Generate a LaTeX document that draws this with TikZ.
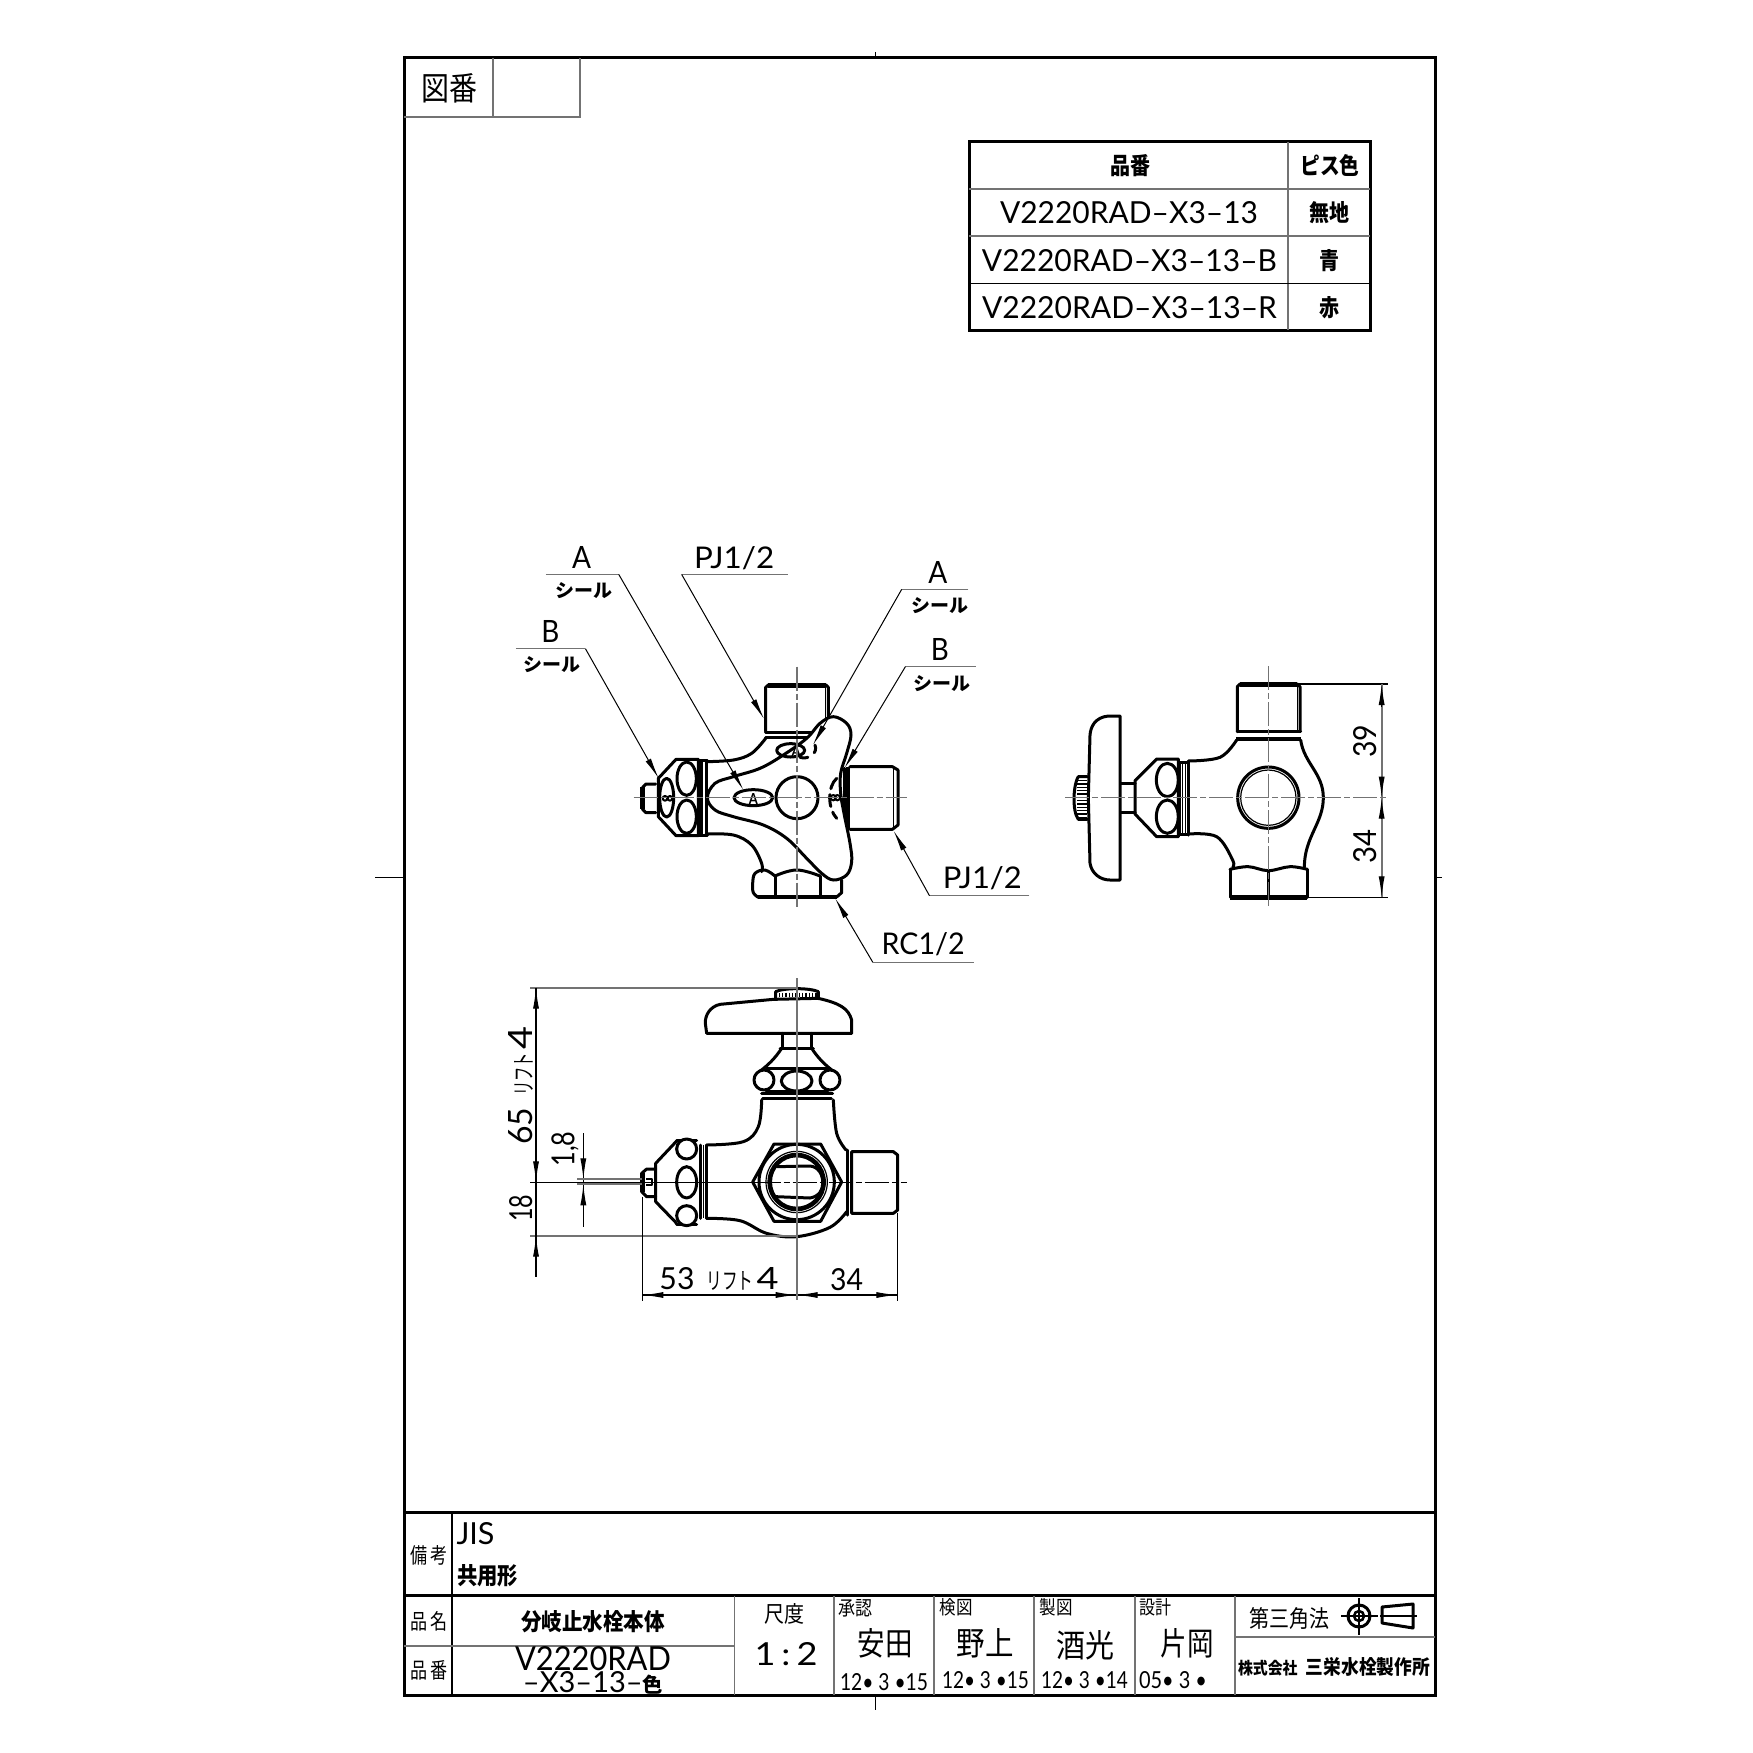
\documentclass[tikz,border=0pt]{standalone}
\usepackage{graphicx}
\usepackage{fontspec}
\setmainfont{Lato}
\newfontfamily\jp{Noto Sans CJK JP}
\usetikzlibrary{arrows.meta}
\newcommand{\lf}[3]{\resizebox{#1pt}{#2pt}{#3}}
\newcommand{\jf}[3]{\resizebox{#1pt}{#2pt}{\jp #3}}
\newcommand{\jb}[3]{\resizebox{#1pt}{#2pt}{\jp\bfseries #3}}
\definecolor{lg}{gray}{0.45}
\tikzset{
 t/.style={inner sep=0pt,outer sep=0pt,anchor=center,text=black},
 thk/.style={line width=3pt,line join=round,line cap=round},
 med/.style={line width=2pt,line join=round},
 thn/.style={line width=1.2pt},
 cl/.style={line width=1.6pt,lg,dash pattern=on 24pt off 3pt on 6pt off 3pt},
 ext/.style={line width=1.2pt,black},
 gline/.style={line width=1.8pt,lg},
 frm/.style={line width=3pt,black},
 hd/.style={-{Latex[length=21pt,width=6pt]}},
 ld/.style={line width=1pt,black},
 ldg/.style={line width=1.3pt,lg},
 za/.style={shift={(620,670)},x=0.33333pt,y=-0.33333pt},
 zb/.style={shift={(480,520)},x=0.3699pt,y=-0.33333pt},
 zc/.style={shift={(490,970)},x=0.33333pt,y=-0.33333pt},
 zd/.style={shift={(1060,660)},x=0.33333pt,y=-0.33333pt},
}
\begin{document}
\begin{tikzpicture}[x=1pt,y=-1pt]
\useasboundingbox (0,0) rectangle (1753,1753);
\fill[white] (0,0) rectangle (1753,1753);
% ---------- sheet frame
\draw[frm] (404,58) rectangle (1435,1695);
\draw[line width=1pt] (875,52)--(875,58) (875,1695)--(875,1710) (375,877)--(404,877) (1435,877)--(1442,877);
\draw[gline] (404,117)--(580,117)--(580,58) (493,58)--(493,117);
\node[t] (zuban) at (449,88) {\jf{56}{27}{図番}};
% ---------- parts table
\draw[line width=3pt] (969,141.5) rectangle (1370.5,330);
\draw[gline] (969,189)--(1370,189) (969,236)--(1370,236) (1288,142)--(1288,330);
\draw[line width=1.4pt] (969,283.5)--(1370,283.5);
\node[t] (th1) at (1130,166) {\jb{40}{20}{品番}};
\node[t] (th2) at (1330,166) {\jb{59}{20}{ピス色}};
\node[t] (r1a) at (1129,213) {\lf{258}{22}{V2220RAD–X3–13}};
\node[t] (r2a) at (1129.5,261) {\lf{295}{22}{V2220RAD–X3–13–B}};
\node[t] (r3a) at (1129.5,308) {\lf{295}{22}{V2220RAD–X3–13–R}};
\node[t] (r1b) at (1329,213) {\jb{40}{20}{無地}};
\node[t] (r2b) at (1329,261) {\jb{20}{20}{青}};
\node[t] (r3b) at (1329,308) {\jb{20}{20}{赤}};
% ---------- title block
\draw[frm] (404,1512.5)--(1435,1512.5) (404,1595.5)--(1435,1595.5);
\draw[line width=2pt] (452,1513)--(452,1695);
\draw[gline] (404,1646)--(734.5,1646) (1235,1637)--(1435,1637);
\draw[gline] (734.5,1596)--(734.5,1695) (834,1596)--(834,1695) (934,1596)--(934,1695) (1034,1596)--(1034,1695) (1135,1596)--(1135,1695) (1235,1596)--(1235,1695);
\node[t] (biko) at (429,1555) {\jf{37}{18}{備\,考}};
\node[t] (jis) at (475.5,1534) {\lf{38}{22}{JIS}};
\node[t] (kyoyo) at (487.5,1576) {\jb{61}{20}{共用形}};
\node[t] (hinmei) at (429,1621) {\jf{37}{18}{品\,名}};
\node[t] (hinban) at (429,1670) {\jf{37}{18}{品\,番}};
\node[t] (name) at (593,1622) {\jb{144}{20}{分岐止水栓本体}};
\node[t] (no1) at (593,1658.5) {\lf{156}{24}{V2220RAD}};
\node[t] (no2) at (593,1683) {\lf{140}{21}{–X3–13–{\jp\bfseries\fontsize{7}{7}\selectfont 色}}};
\node[t] (shaku) at (784,1614) {\jf{40}{19}{尺度}};
\node[t] (scale) at (786,1654.5) {\lf{63}{23}{1\,:\,2}};
\node[t] (sho) at (855,1608) {\jf{34}{16}{承認}};
\node[t] (p1) at (885,1643) {\jf{55}{27}{安田}};
\node[t] (d1) at (884,1682) {\lf{88}{17}{12• 3 •15}};
\node[t] (ken) at (956,1607) {\jf{33}{16}{検図}};
\node[t] (p2) at (985,1643) {\jf{57}{27}{野上}};
\node[t] (d2) at (985.5,1680.5) {\lf{87}{17}{12• 3 •15}};
\node[t] (sei) at (1056,1607) {\jf{33}{16}{製図}};
\node[t] (p3) at (1085,1645) {\jf{58}{27}{酒光}};
\node[t] (d3) at (1084.5,1680.5) {\lf{87}{17}{12• 3 •14}};
\node[t] (sek) at (1155,1607) {\jf{32}{16}{設計}};
\node[t] (p4) at (1187,1643) {\jf{53}{27}{片岡}};
\node[t] (d4) at (1173,1680.5) {\lf{68}{17}{05• 3 •}};
\node[t] (sankaku) at (1289,1618) {\jf{80}{20}{第三角法}};
\node[t] (co) at (1334,1667) {\jb{192}{17}{{\fontsize{8.4}{8.4}\selectfont 株式会社}\ \ 三栄水栓製作所}};
% third angle symbol
\draw[line width=1.2pt] (1341,1616)--(1378,1616) (1359,1598)--(1359,1635) (1380,1616)--(1417,1616);
\draw[line width=3pt] (1359,1616) circle (11);
\draw[line width=2.5pt] (1359,1616) circle (5);
\draw[thk] (1382,1607)--(1413,1604)--(1413,1628)--(1382,1623)--cycle;
% ---------- FRONT VIEW
\begin{scope}[za]
 % top nipple
 \draw[thk] (437,185)--(437,52)--(445,45)--(618,45)--(625,52)--(625,150);
 \draw[line width=5pt] (445,45)--(618,45);
 \draw[thn] (617,50)--(617,160);
 \draw[thk] (437,186)--(600,186);
 \draw[thk] (437,203)--(575,203);
 % body
 \draw[thk] plot[smooth,tension=.6] coordinates {(258,275)(340,270)(395,250)(437,205)};
 \draw[thk] plot[smooth,tension=.6] coordinates {(258,492)(340,495)(395,525)(425,580)(425,605)};
 % bottom nut
 \draw[thk] plot[smooth,tension=.6] coordinates {(465,618)(435,600)(405,610)(398,640)(400,668)(415,682)};
 \draw[line width=4pt] (415,681)--(650,681);
 \draw[thk] (650,681)--(665,668)--(665,630);
 \draw[thk] (465,618)--(465,675) (600,618)--(600,675);
 \draw[thk] plot[smooth,tension=.7] coordinates {(465,618)(530,600)(600,618)};
 % left nut
 \draw[thk] (168,268)--(235,268)--(235,497)--(168,497)--(115,440)--(115,325)--cycle;
 \draw[thk] (200,326) ellipse[x radius=29,y radius=50] (200,440) ellipse[x radius=29,y radius=50];
 \draw[thk] (140,383) ellipse[x radius=21,y radius=58];
 \draw[med] (135,385) circle (7) (150,385) circle (7);
 \draw[thk] (245,272)--(245,493);
 \draw[thk] (258,272)--(258,493);
 \draw[thk] (238,270)--(262,270) (238,495)--(262,495);
 \draw[thk] (107,342)--(78,342)--(68,352)--(68,418)--(78,428)--(107,428);
 \draw[line width=5pt] (68,352)--(68,418);
 % right band
 \draw[thk] (672,295)--(672,480);
 \draw[line width=4pt] (684,290)--(684,480);
 % handle
 \draw[thk,fill=white] plot[smooth cycle,tension=.6] coordinates {(640,140)(680,160)(693,195)(680,250)(662,310)(662,370)(672,430)(690,520)(695,575)(680,615)(640,630)(605,610)(560,565)(500,505)(430,465)(340,440)(285,420)(262,383)(285,340)(340,320)(420,295)(490,255)(560,205)(600,160)};
 \draw[thk] (531,383) circle (63);
 \draw[thk] (400,383) ellipse[x radius=58,y radius=24];
 \draw[thk] (512,241) ellipse[x radius=42,y radius=20];
 \draw[thk,dash pattern=on 12pt off 6pt] (650,325) .. controls (622,350) and (622,415) .. (650,445);
 \draw[thk,dash pattern=on 8pt off 8pt] (540,262) .. controls (565,270) and (595,250) .. (585,225);
 \draw[med] (640,383) circle (8) (652,383) circle (8);
 \node[t] (aa) at (400,388) {\lf{9}{11}{\bfseries A}};
 \node[t] (ab) at (528,244) {\lf{9}{10}{\bfseries A}};
\end{scope}
\begin{scope}[zb]
 % right nipple
 \draw[thk] (1000,740)--(1115,740)--(1130,750)--(1130,915)--(1115,928)--(1000,928);
 \draw[line width=1.5pt] (1118,745)--(1118,925);
 % leaders
 \draw[ldg] (178,163)--(375,163);
 \draw[ld,hd] (375,163)--(712,810);
 \draw[ldg] (832,163)--(545,163);
 \draw[ld,hd] (545,163)--(768,597);
 \draw[ldg] (97,386)--(285,386);
 \draw[ld,hd] (285,386)--(483,775);
 \draw[ldg] (1320,208)--(1140,208);
 \draw[ld,hd] (1140,208)--(900,675);
 \draw[ldg] (1340,440)--(1150,440);
 \draw[ld,hd] (1150,440)--(985,745);
 \draw[ldg] (1485,1127)--(1215,1127);
 \draw[ld,hd] (1215,1127)--(1118,932);
 \draw[ldg] (1335,1327)--(1062,1327);
 \draw[ld,hd] (1062,1327)--(960,1135);
 % labels
 \node[t] (la1) at (275,112) {\lf{19}{22}{A}};
 \node[t] (lp1) at (687,113) {\lf{80}{22}{PJ1/2}};
 \node[t] (ls1) at (280,213) {\jb{57}{15}{シール}};
 \node[t] (lb1) at (190,335) {\lf{18}{22}{B}};
 \node[t] (ls2) at (195,435) {\jb{57}{15}{シール}};
 \node[t] (la2) at (1238,158) {\lf{19}{22}{A}};
 \node[t] (ls3) at (1243,258) {\jb{57}{15}{シール}};
 \node[t] (lb2) at (1243,388) {\lf{18}{22}{B}};
 \node[t] (ls4) at (1250,490) {\jb{57}{15}{シール}};
 \node[t] (lp2) at (1358,1073) {\lf{79}{22}{PJ1/2}};
 \node[t] (lr) at (1198,1273) {\lf{83}{22}{RC1/2}};
 % centre lines
 \draw[cl] (415,833)--(1155,833);
 \draw[cl] (857,440)--(857,1160);
\end{scope}
% ---------- SIDE VIEW
\begin{scope}[zd]
 % nipple
 \draw[thk] (532,215)--(532,80)--(540,72)--(712,72)--(720,80)--(720,215);
 \draw[line width=5pt] (540,72)--(712,72);
 \draw[thn] (712,78)--(712,212);
 \draw[thk] (532,215)--(722,215);
 \draw[line width=4pt] (528,236)--(724,236);
 % body
 \draw[thk] (722,240) .. controls (732,310) and (790,340) .. (790,413) .. controls (790,490) and (733,530) .. (733,622);
 \draw[thk] plot[smooth,tension=.6] coordinates {(530,240)(480,292)(385,303)};
 \draw[thk] plot[smooth,tension=.6] coordinates {(385,522)(470,530)(518,600)(518,622)};
 % nut
 \draw[thk] (510,628)--(510,712) (742,628)--(742,712) (625,630)--(625,712);
 \draw[line width=4.5pt] (510,712)--(742,712);
 \draw[thk] plot[smooth,tension=.6] coordinates {(510,628)(565,620)(625,632)(690,620)(742,628)};
 % port
 \draw[thk] (625,413) circle (92);
 \draw[thn] (625,413) circle (83);
 % neck
 \draw[thk] (358,306)--(358,524) (385,303)--(385,525);
 \draw[line width=1.5pt] (368,306)--(368,524) (376,306)--(376,524);
 \draw[thk] (358,306)--(385,306) (358,524)--(385,524);
 % hex
 \draw[thk] (290,297)--(355,297)--(355,530)--(290,530)--(225,462)--(225,362)--cycle;
 \draw[thk] (322,360) ellipse[x radius=33,y radius=50] (322,470) ellipse[x radius=33,y radius=50];
 % stem
 \draw[thk] (183,370)--(225,370) (183,458)--(225,458);
 % handle
 \draw[thk] (180,660)--(180,168)--(145,168) .. controls (105,172) and (92,200) .. (90,225) -- (85,413) -- (90,610) .. controls (95,640) and (120,660) .. (150,660)--cycle;
 % knob
 \draw[thk] (82,350)--(55,350) .. controls (45,365) and (42,400) .. (42,415) .. controls (42,440) and (45,465) .. (55,478)--(82,478);
 \foreach \yy in {362,372,...,472} \draw[thn] (52,\yy)--(80,\yy);
 % dimensions
 \draw[ext] (715,72)--(985,72) (745,712)--(985,712);
 \draw[gline] (965,72)--(965,712);
 \draw[thn,-{Latex[length=21pt,width=6pt]}] (965,140)--(965,72);
 \draw[thn,-{Latex[length=21pt,width=6pt]}] (965,350)--(965,413);
 \draw[thn,-{Latex[length=21pt,width=6pt]}] (965,475)--(965,413);
 \draw[thn,-{Latex[length=21pt,width=6pt]}] (965,650)--(965,712);
 \node[t,rotate=90] (d39) at (915,243) {\lf{33}{23}{39}};
 \node[t,rotate=90] (d34) at (915,560) {\lf{34}{23}{34}};
 % centre lines
 \draw[cl] (15,413)--(985,413);
 \draw[cl] (625,18)--(625,740);
\end{scope}
% ---------- LOWER VIEW
\begin{scope}[zc]
 % handle
 \draw[thk] (650,190)--(1085,190)--(1085,150) .. controls (1075,115) and (1050,100) .. (985,85)--(850,88)--(690,103) .. controls (660,110) and (645,135) .. (646,160)--(650,190);
 % knob
 \draw[thk] (857,86)--(857,65) .. controls (880,53) and (960,53) .. (985,65)--(985,86);
 \foreach \xx in {868,878,...,978} \draw[thn] (\xx,68)--(\xx,82);
 % stem and bonnet
 \draw[thk] (878,190)--(878,235) (965,190)--(965,235);
 \draw[thk] (870,235)--(970,235);
 \draw[thk] (875,235) .. controls (855,265) and (835,285) .. (808,305);
 \draw[thk] (965,235) .. controls (985,265) and (1005,285) .. (1032,305);
 \draw[thk] (830,295)--(1012,295) (830,365)--(1012,365);
 \draw[thk,fill=white] (822,330) circle (30) (1020,330) circle (30);
 \draw[thk] (920,333) ellipse[x radius=46,y radius=30];
 \draw[thk] (815,370)--(1028,370);
 \draw[thk] (818,386)--(1024,386);
 % body
 \draw[thk] plot[smooth,tension=.6] coordinates {(815,390)(805,470)(760,515)(650,525)};
 \draw[thk] plot[smooth,tension=.6] coordinates {(1030,390)(1040,490)(1068,540)};
 \draw[thk] plot[smooth,tension=.6] coordinates {(1070,725)(1020,772)(920,800)(830,790)(750,752)(650,745)};
 % nipple
 \draw[thk] (1073,540)--(1073,735);
 \draw[thk] (1085,545)--(1210,545)--(1223,555)--(1223,720)--(1210,730)--(1085,730)--cycle;
 % hex + port
 \draw[thk] (788,636)--(852,522)--(992,522)--(1055,636)--(992,754)--(852,754)--cycle;
 \draw[thk,fill=white] (920,636) circle (113);
 \draw[thn] (920,636) circle (92);
 \draw[thn] (920,636) circle (86);
 \draw[line width=4pt] (920,636) circle (80);
 \draw[thk] (860,590)--(960,588) .. controls (985,590) and (1000,615) .. (998,640);
 \draw[thk] (858,680)--(960,684) .. controls (985,680) and (1000,660) .. (998,640);
 % left nut
 \draw[thk] (630,525)--(630,745) (650,525)--(650,745);
 \draw[thn] (640,525)--(640,745);
 \draw[thk] (560,513)--(497,580)--(497,695)--(560,760);
 \draw[thk] (560,510)--(620,510) (560,764)--(620,764);
 \draw[thk,fill=white] (590,537) circle (30) (590,737) circle (30);
 \draw[thk] (590,637) ellipse[x radius=30,y radius=47];
 \draw[thk] (497,597)--(470,597)--(455,610)--(455,665)--(470,680)--(497,680);
 \draw[line width=5pt] (458,610)--(458,665);
 \draw[med] (468,628)--(487,628)--(487,645)--(468,645);
 % dimensions
 \draw[gline] (120,53)--(920,53) (120,797)--(920,797);
 \draw[ext] (138,53)--(138,922);
 \draw[thn,-{Latex[length=21pt,width=6pt]}] (138,120)--(138,53);
 \draw[thn,-{Latex[length=21pt,width=6pt]}] (138,575)--(138,637);
 \draw[thn,-{Latex[length=21pt,width=6pt]}] (138,860)--(138,797);
 \node[t,rotate=90] (d65) at (92,347) {\lf{37}{24}{65}\hspace{12pt}\jf{43}{18}{リフト}\hspace{3pt}\lf{23}{24}{4}};
 \node[t,rotate=90] (d18) at (92,715) {\lf{27}{23}{18}};
 \draw[ext] (280,490)--(280,770);
 \draw[thn,-{Latex[length=21pt,width=6pt]}] (280,567)--(280,628);
 \draw[thn,-{Latex[length=21pt,width=6pt]}] (280,708)--(280,643);
 \draw[gline] (262,628)--(455,628) (262,643)--(455,643);
 \node[t,rotate=90] (d18b) at (225,537) {\lf{35}{23}{1,8}};
 \draw[ext] (457,680)--(457,992) (1222,730)--(1222,992);
 \draw[ext] (457,975)--(1222,975);
 \draw[thn,-{Latex[length=21pt,width=6pt]}] (520,975)--(457,975);
 \draw[thn,-{Latex[length=21pt,width=6pt]}] (860,975)--(920,975);
 \draw[thn,-{Latex[length=21pt,width=6pt]}] (985,975)--(920,975);
 \draw[thn,-{Latex[length=21pt,width=6pt]}] (1160,975)--(1222,975);
 \node[t] (d53) at (687,928) {\lf{35}{22}{53}\hspace{12pt}\jf{47}{18}{リフト}\hspace{3pt}\lf{22}{22}{4}};
 \node[t] (d34c) at (1070,928) {\lf{33}{22}{34}};
 % centre lines
 \draw[line width=1.2pt,black] (120,637)--(800,637);
 \draw[line width=1.2pt,black,dash pattern=on 24pt off 3pt on 6pt off 3pt] (800,637)--(1250,637);
 \draw[gline] (920,25)--(920,990);
\end{scope}
\end{tikzpicture}
\end{document}
